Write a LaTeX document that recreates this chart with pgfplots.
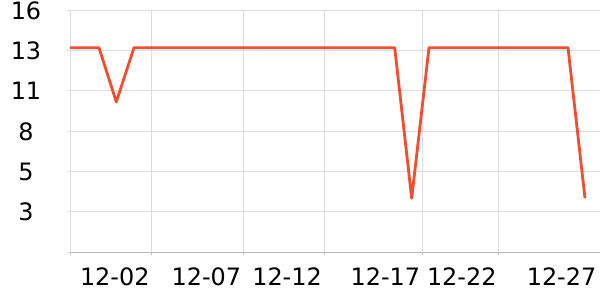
\documentclass[border=0pt]{standalone}
\usepackage{fontspec}
\setmainfont{DejaVu Sans}
\usepackage{pgfplots}
\pgfplotsset{compat=1.18}
\definecolor{linec}{RGB}{240,78,46}
\definecolor{gridc}{RGB}{221,221,221}
\definecolor{axisc}{RGB}{187,187,187}
\begin{document}
\begin{tikzpicture}
\useasboundingbox (0,0) rectangle (600bp,300bp);
\begin{axis}[
  at={(70bp,47.7bp)}, anchor=south west,
  scale only axis, width=530bp, height=242bp,
  xmin=0, xmax=530, ymin=0, ymax=16,
  axis x line*=bottom, axis y line*=left,
  x axis line style={draw=axisc, line width=1bp},
  y axis line style={draw=gridc, line width=1bp},
  grid=major, major grid style={draw=gridc, line width=1bp},
  ytick={0,2.6667,5.3333,8,10.6667,13.3333,16},
  yticklabels={,3,5,8,11,13,16},
  xtick={0,81.7,173.3,254,352.3,428.7},
  xticklabels={,12-02,12-07,12-12,12-17,12-22},
  extra x ticks={528.5}, extra x tick labels={12-27},
  extra x tick style={grid=none, x tick style={draw=none}},
  tick align=outside, major tick length=3bp,
  x tick style={draw=axisc, line width=1bp},
  y tick style={draw=gridc, line width=1bp},
  xticklabel style={anchor=north east, inner sep=0pt, xshift=-2bp, yshift=-12.7bp},
  yticklabel style={anchor=center, inner sep=0pt, xshift=-41bp},
  tick label style={font=\fontsize{24}{28}\selectfont},
  /pgf/number format/assume math mode=true,
]
\addplot[linec, line width=2.8bp, line join=round, no markers] coordinates {
  (0,13.53) (29,13.53) (46.3,9.94) (64,13.53) (324.7,13.53)
  (341.7,3.57) (359,13.53) (498,13.53) (515,3.57)
};
\end{axis}
\end{tikzpicture}
\end{document}
